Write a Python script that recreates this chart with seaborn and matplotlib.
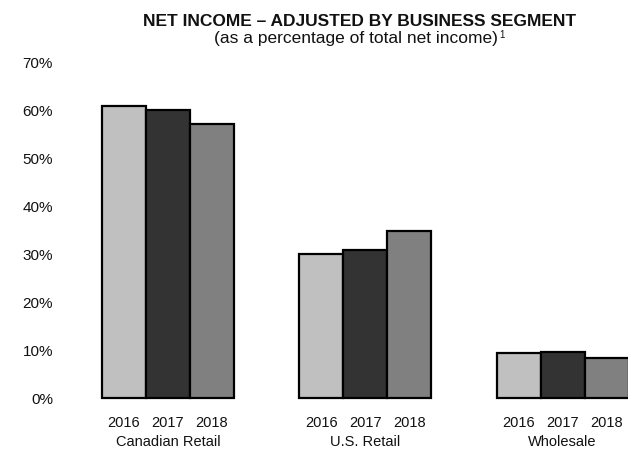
import matplotlib
matplotlib.use("Agg")
import matplotlib.pyplot as plt
import seaborn as sns
import pandas as pd

# Share of total adjusted net income by segment and fiscal year (%)
segments = ["Canadian Retail", "U.S. Retail", "Wholesale"]
years = ["2016", "2017", "2018"]
canadian_retail = [60.9, 60.0, 57.1]
us_retail = [30.1, 30.8, 34.8]
wholesale = [9.3, 9.6, 8.3]
year_colors = ["#c0c0c0", "#333333", "#808080"]
y_ticks = [0, 10, 20, 30, 40, 50, 60, 70]

rows = []
for seg, vals in zip(segments, [canadian_retail, us_retail, wholesale]):
    for yr, v in zip(years, vals):
        rows.append({"segment": seg, "year": yr, "pct": v})
df = pd.DataFrame(rows)

sns.set_theme(style="white")
plt.rcParams["font.family"] = ["Liberation Sans", "DejaVu Sans"]

fig = plt.figure(figsize=(6.28, 4.5), dpi=100)
W, H = 628, 450
ax = fig.add_axes([60 / W, 52 / H, (628 - 60) / W, (398 - 62) / H])

sns.barplot(data=df, x="segment", y="pct", hue="year", order=segments,
            hue_order=years, palette=year_colors, width=0.668,
            edgecolor="black", linewidth=1.6, saturation=1, ax=ax,
            legend=False)

ax.set_xlim(-0.547, 2.331)
ax.set_ylim(0, 70)
ax.set_yticks(y_ticks)
ax.set_yticklabels([f"{t}%" for t in y_ticks], fontsize=11, color="#111111")
ax.tick_params(axis="y", length=0, pad=5)
ax.set_xlabel("")
ax.set_ylabel("")
for s in ax.spines.values():
    s.set_visible(False)
for p in ax.patches:
    p.set_clip_on(False)

# Segment names below the year labels
ax.set_xticks(range(len(segments)))
ax.set_xticklabels(segments, fontsize=10.5, color="#111111")
ax.tick_params(axis="x", length=0, pad=27)

# Year label under each bar
bars = sorted(ax.patches, key=lambda b: b.get_x())
for i, b in enumerate(bars):
    ax.annotate(years[i % 3], xy=(b.get_x() + b.get_width() / 2, 0),
                xycoords="data", xytext=(0, -18), textcoords="offset points",
                ha="center", va="center", fontsize=10.5, color="#111111",
                annotation_clip=False)

fig.text(360 / W, 1 - 21.5 / H, "NET INCOME \u2013 ADJUSTED BY BUSINESS SEGMENT",
         ha="center", va="center", fontsize=12.5, fontweight="bold", color="#111111")
sub = fig.text(356 / W, 1 - 38 / H, "(as a percentage of total net income)",
               ha="center", va="center", fontsize=12.5, color="#111111")
fig.canvas.draw()
bb = sub.get_window_extent()
fig.text((bb.x1 + 1) / W, (bb.y1 + 1) / H, "1", ha="left", va="top",
         fontsize=7, color="#111111")

fig.savefig("out.png", dpi=100)
